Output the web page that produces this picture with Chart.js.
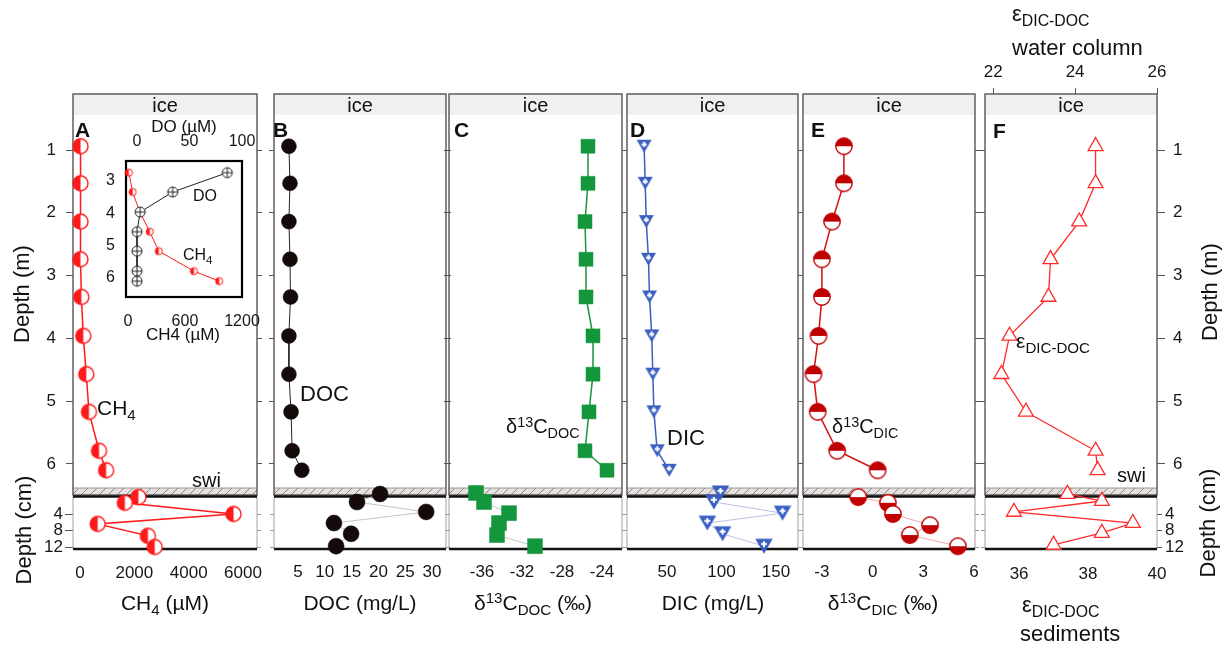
<!DOCTYPE html>
<html><head><meta charset="utf-8">
<script src="https://cdn.jsdelivr.net/npm/chart.js@4.4.1/dist/chart.umd.min.js"></script>
<style>
html,body{margin:0;padding:0;background:#fff;}
#stage{position:relative;width:1223px;height:649px;overflow:hidden;font-family:'Liberation Sans',Arial,Helvetica,sans-serif;color:#111;}
#stage canvas{position:absolute;left:0;top:0;}
.t{position:absolute;white-space:nowrap;line-height:1;}
.sb{font-size:72%;position:relative;top:0.32em;}
.sp{font-size:72%;position:relative;top:-0.45em;}
</style></head><body><div id="stage"></div>
<script>
// ---------------- data ----------------
const waterDepth = [0.94, 1.53, 2.14, 2.74, 3.34, 3.96, 4.57, 5.17, 5.79, 6.10];   // m
const ch4Water = [20, 20, 20, 15, 50, 120, 230, 330, 700, 960];                    // uM
const ch4SedDepth = [-0.1, 1.3, 4.0, 6.4, 9.3, 12.0];                                // cm
const ch4Sed = [2150, 1650, 5650, 650, 2500, 2750];
const insetDepth = [2.74, 3.34, 3.96, 4.57, 5.17, 5.79, 6.10];
const insetCH4 = [10, 50, 125, 230, 325, 695, 960];
const insetDO = [86, 34, 3, 0, 0, 0, 0];
const docWater = [3.3, 3.5, 3.3, 3.5, 3.6, 3.3, 3.3, 3.7, 3.9, 5.7];
const docSedDepth = [-0.85, 1.1, 3.5, 6.2, 8.8, 11.8];
const docSed = [20.3, 16.0, 28.9, 11.7, 14.9, 12.1];
const d13DocWater = [-25.4, -25.4, -25.7, -25.6, -25.6, -24.9, -24.9, -25.3, -25.7, -23.5];
const d13DocSedDepth = [-1.1, 1.1, 3.8, 6.2, 9.1, 11.8];
const d13DocSed = [-36.6, -35.8, -33.3, -34.3, -34.5, -30.7];
const dicWater = [29, 30, 31, 33, 34, 36, 37, 38, 41, 52];
const dicSedDepth = [-1.1, 1.1, 3.8, 6.2, 8.8, 11.8];
const dicSed = [99, 93, 156, 87, 101, 139];
const d13DicWater = [-1.7, -1.7, -2.4, -3.0, -3.0, -3.2, -3.5, -3.25, -2.1, 0.3];
const d13DicSedDepth = [-0.1, 1.3, 4.0, 6.7, 9.1, 11.8];
const d13DicSed = [-0.85, 0.9, 1.2, 3.4, 2.2, 5.05];
const epsWater = [24.5, 24.5, 24.1, 23.4, 23.35, 22.4, 22.2, 22.8, 24.5, 24.55];
const epsSedDepth = [-0.85, 0.85, 3.5, 6.2, 8.6, 11.5];
const epsSed = [37.4, 38.4, 35.85, 39.3, 38.4, 37.0];

// tick labels
const depthTicksM = [1, 2, 3, 4, 5, 6];
const depthTicksCm = [4, 8, 12];
const ch4Ticks = [0, 2000, 4000, 6000];
const docTicks = [5, 10, 15, 20, 25, 30];
const d13DocTicks = [-36, -32, -28, -24];
const dicTicks = [50, 100, 150];
const d13DicTicks = [-3, 0, 3, 6];
const epsWaterTicks = [22, 24, 26];
const epsSedTicks = [36, 38, 40];
const insetDepthTicks = [3, 4, 5, 6];
const insetCH4Ticks = [0, 600, 1200];
const insetDOTicks = [0, 50, 100];

// ---------------- layout / style ----------------
const W = 1223, H = 649;
const FONT = "'Liberation Sans', Arial, Helvetica, sans-serif";
const stage = document.getElementById('stage');
Chart.defaults.font.family = FONT;

const PANELS = {A:[73,257], B:[274,446], C:[449,622], D:[627,798], E:[803,975], F:[985,1157]};
const WT = 94, WB = 495, ST = 496.5, SBm = 549;
const WY = [0.108, 6.494], SY = [-0.24, 12.48];
const ICE_B = 0.44, SWI_T = 6.383;
const XR = {A:[-258,6515], B:[0.52,32.6], C:[-39.3,-22.0], D:[13.3,170.2], E:[-4.12,6.06], Fw:[21.8,26], Fs:[35.01,40]};
const TICK_FONT = 17;

function mkAxis(id, pos, o) {
  const horiz = pos === 'top' || pos === 'bottom';
  const tl = o.tl || 0;
  const cfg = {
    type: 'linear', axis: horiz ? 'x' : 'y', position: pos, min: o.min, max: o.max, reverse: !!o.reverse,
    display: (o.size || 0) > 0,
    afterBuildTicks: sc => { sc.ticks = (o.ticks || []).map(v => ({value: v})); },
    ticks: { display: !!o.show, padding: o.pad || 0, autoSkip: false, maxRotation: 0, minRotation: 0,
             font: {family: FONT, size: o.font || TICK_FONT}, color: '#161616', callback: v => String(v) },
    grid: { display: tl > 0, drawOnChartArea: false, drawTicks: tl > 0, tickLength: tl, color: o.tc || '#555', lineWidth: 1 },
    border: { display: false },
    title: { display: false }
  };
  if ((o.size || 0) > 0) cfg.afterFit = sc => { if (horiz) sc.height = o.size; else sc.width = o.size; };
  return {id, pos, size: o.size || 0, cfg};
}

function chartAt(frame, axes, datasets, plugins) {
  const side = {left:0, right:0, top:0, bottom:0};
  const scales = {};
  axes.forEach(a => { scales[a.id] = a.cfg; side[a.pos] += a.size; });
  const cv = document.createElement('canvas');
  cv.width = W; cv.height = H; cv.style.width = W + 'px'; cv.style.height = H + 'px';
  stage.appendChild(cv);
  return new Chart(cv, {
    type: 'scatter',
    data: {datasets},
    options: {
      responsive: false, animation: false, devicePixelRatio: 1, events: [],
      layout: {padding: {left: frame.l - side.left, right: W - frame.r - side.right,
                         top: frame.t - side.top, bottom: H - frame.b - side.bottom}},
      plugins: {legend: {display: false}, tooltip: {enabled: false}},
      scales
    },
    plugins
  });
}

function series(xs, ys, o) {
  return {
    data: xs.map((v, i) => ({x: v, y: ys[i]})), showLine: true,
    borderColor: o.line, borderWidth: o.lw || 1.5, pointStyle: o.ps, pointRadius: o.r,
    pointBackgroundColor: o.fill || '#fff', pointBorderColor: o.pb || o.line, pointBorderWidth: o.pbw || 1.4,
    xAxisID: o.xid || 'x', yAxisID: 'y', clip: false, tension: 0
  };
}

// ---- marker images ----
function halfCircle(r, col, half, lw) {
  const s = Math.ceil(2 * r + lw + 2); const c = document.createElement('canvas'); c.width = c.height = s;
  const g = c.getContext('2d'); const cx = s / 2, cy = s / 2;
  g.fillStyle = '#fff'; g.beginPath(); g.arc(cx, cy, r, 0, 2 * Math.PI); g.fill();
  const a0 = {left: Math.PI / 2, top: Math.PI, bottom: 0}[half];
  g.fillStyle = col; g.beginPath(); g.arc(cx, cy, r, a0, a0 + Math.PI); g.closePath(); g.fill();
  g.strokeStyle = col; g.lineWidth = lw; g.beginPath(); g.arc(cx, cy, r, 0, 2 * Math.PI); g.stroke();
  return c;
}
function triDown(w, col) {
  const h = w * 0.87; const s = Math.ceil(w + 4); const c = document.createElement('canvas'); c.width = c.height = s;
  const g = c.getContext('2d'); const cx = s / 2, cy = s / 2; const top = cy - h / 2;
  g.fillStyle = col; g.beginPath(); g.moveTo(cx - w / 2, top); g.lineTo(cx + w / 2, top); g.lineTo(cx, top + h); g.closePath(); g.fill();
  const py = top + h * 0.36, a = w * 0.17;
  g.strokeStyle = '#fff'; g.lineWidth = 2; g.beginPath();
  g.moveTo(cx - a, py); g.lineTo(cx + a, py); g.moveTo(cx, py - a); g.lineTo(cx, py + a); g.stroke();
  return c;
}
function circlePlus(r) {
  const s = Math.ceil(2 * r + 4); const c = document.createElement('canvas'); c.width = c.height = s;
  const g = c.getContext('2d'); const cx = s / 2, cy = s / 2;
  g.fillStyle = '#fff'; g.beginPath(); g.arc(cx, cy, r, 0, 2 * Math.PI); g.fill();
  g.strokeStyle = '#222'; g.lineWidth = 1; g.beginPath(); g.arc(cx, cy, r, 0, 2 * Math.PI);
  g.moveTo(cx - r, cy); g.lineTo(cx + r, cy); g.moveTo(cx, cy - r); g.lineTo(cx, cy + r); g.stroke();
  return c;
}

const RED = '#ff1a1a', DRED = '#c00000', BLUE = '#3a5fc0', GREEN = '#14963c', BLK = '#140a0a';
const mkA = halfCircle(7.5, RED, 'left', 1.4);
const mkInsetCH4 = halfCircle(3.6, RED, 'left', 1);
const mkDO = circlePlus(5);
const mkEw = halfCircle(8.2, DRED, 'top', 1.4);
const mkEs = halfCircle(8.2, DRED, 'bottom', 1.4);
const mkDw = triDown(15, BLUE);
const mkDs = triDown(17.5, BLUE);

// ---- decoration plugins ----
const waterDeco = {
  id: 'waterDeco',
  beforeDatasetsDraw(chart) {
    const {ctx, chartArea: a} = chart; const ys = chart.scales.y;
    const yIce = ys.getPixelForValue(ICE_B), ySwi = ys.getPixelForValue(SWI_T);
    const w = a.right - a.left;
    ctx.save();
    ctx.fillStyle = '#f0f0f0'; ctx.fillRect(a.left, a.top, w, yIce - a.top);
    ctx.fillStyle = '#e6e1e1'; ctx.fillRect(a.left, ySwi, w, a.bottom - ySwi);
    ctx.save(); ctx.beginPath(); ctx.rect(a.left, ySwi, w, a.bottom - ySwi); ctx.clip();
    ctx.beginPath(); ctx.strokeStyle = '#7a6e6e'; ctx.lineWidth = 0.8;
    for (let x = a.left - 10; x < a.right + 10; x += 9) { ctx.moveTo(x, a.bottom); ctx.lineTo(x + 7, ySwi); }
    ctx.stroke(); ctx.restore();
    ctx.strokeStyle = '#a09696'; ctx.lineWidth = 1;
    ctx.beginPath(); ctx.moveTo(a.left, ySwi); ctx.lineTo(a.right, ySwi); ctx.stroke();
    ctx.strokeStyle = '#5c5252'; ctx.lineWidth = 1.4;
    ctx.strokeRect(a.left, a.top, w, a.bottom - a.top);
    ctx.restore();
  }
};
const sedDeco = {
  id: 'sedDeco',
  beforeDatasetsDraw(chart) {
    const {ctx, chartArea: a} = chart;
    ctx.save();
    ctx.strokeStyle = '#a8a0a0'; ctx.lineWidth = 1; ctx.beginPath();
    ctx.moveTo(a.left, a.top); ctx.lineTo(a.left, a.bottom); ctx.moveTo(a.right, a.top); ctx.lineTo(a.right, a.bottom);
    ctx.stroke();
    ctx.strokeStyle = '#111'; ctx.lineWidth = 2.5; ctx.beginPath();
    ctx.moveTo(a.left, a.top); ctx.lineTo(a.right, a.top); ctx.moveTo(a.left, a.bottom); ctx.lineTo(a.right, a.bottom);
    ctx.stroke();
    ctx.restore();
  }
};
const insetDeco = {
  id: 'insetDeco',
  beforeDatasetsDraw(chart) {
    const {ctx, chartArea: a} = chart;
    ctx.save(); ctx.fillStyle = '#fff'; ctx.fillRect(a.left, a.top, a.right - a.left, a.bottom - a.top);
    ctx.strokeStyle = '#000'; ctx.lineWidth = 2.2; ctx.strokeRect(a.left, a.top, a.right - a.left, a.bottom - a.top);
    ctx.restore();
  }
};

// ---- panel builders ----
function waterAxes(xr, opt) {
  const o = opt || {};
  const axes = [];
  if (o.topTicks) axes.push(mkAxis('x', 'top', {min: xr[0], max: xr[1], ticks: o.topTicks, show: true, tl: 6, pad: 5, size: 40}));
  else axes.push(mkAxis('x', 'bottom', {min: xr[0], max: xr[1]}));
  axes.push(o.leftLabels
    ? mkAxis('y', 'left', {min: WY[0], max: WY[1], reverse: true, ticks: depthTicksM, show: true, tl: 7, pad: 10, size: 40})
    : mkAxis('y', 'left', {min: WY[0], max: WY[1], reverse: true, ticks: depthTicksM, tl: 5, size: 5}));
  axes.push(o.rightLabels
    ? mkAxis('yr', 'right', {min: WY[0], max: WY[1], reverse: true, ticks: depthTicksM, show: true, tl: 8, pad: 8, size: 40})
    : mkAxis('yr', 'right', {min: WY[0], max: WY[1], reverse: true, ticks: depthTicksM, tl: 5, size: 5}));
  return axes;
}
function sedAxes(xr, xticks, pad, opt) {
  const o = opt || {};
  return [
    mkAxis('x', 'bottom', {min: xr[0], max: xr[1], ticks: xticks, show: true, pad: pad, size: 45}),
    o.leftLabels
      ? mkAxis('y', 'left', {min: SY[0], max: SY[1], reverse: true, ticks: depthTicksCm, show: true, tl: 8, pad: 2, size: 40})
      : mkAxis('y', 'left', {min: SY[0], max: SY[1], reverse: true, ticks: depthTicksCm, tl: 4, size: 4, tc: '#999'}),
    o.rightLabels
      ? mkAxis('yr', 'right', {min: SY[0], max: SY[1], reverse: true, ticks: depthTicksCm, show: true, tl: 5, pad: 3, size: 40})
      : mkAxis('yr', 'right', {min: SY[0], max: SY[1], reverse: true, ticks: depthTicksCm, tl: 4, size: 4, tc: '#999'})
  ];
}
const wf = k => ({l: PANELS[k][0], r: PANELS[k][1], t: WT, b: WB});
const sf = k => ({l: PANELS[k][0], r: PANELS[k][1], t: ST, b: SBm});

// Panel A
chartAt(wf('A'), waterAxes(XR.A, {leftLabels: true}),
  [series(ch4Water, waterDepth, {line: RED, lw: 1.5, ps: mkA, r: 8})], [waterDeco]);
// Inset
chartAt({l: 126, r: 242, t: 161, b: 297}, [
    mkAxis('x', 'bottom', {min: -20, max: 1200, ticks: insetCH4Ticks, show: true, pad: 15, size: 40, font: 16}),
    mkAxis('x2', 'top', {min: -10.5, max: 100, ticks: insetDOTicks, show: true, pad: 10, size: 30, font: 16}),
    mkAxis('y', 'left', {min: 2.38, max: 6.59, reverse: true, ticks: insetDepthTicks, show: true, pad: 11, size: 30, font: 16})
  ], [
    series(insetDO, insetDepth, {line: '#222', lw: 1, ps: mkDO, r: 6, xid: 'x2'}),
    series(insetCH4, insetDepth, {line: RED, lw: 1, ps: mkInsetCH4, r: 4})
  ], [insetDeco]);
chartAt(sf('A'), sedAxes(XR.A, ch4Ticks, 14, {leftLabels: true}),
  [series(ch4Sed, ch4SedDepth, {line: RED, lw: 1.5, ps: mkA, r: 8})], [sedDeco]);

// Panel B
chartAt(wf('B'), waterAxes(XR.B),
  [series(docWater, waterDepth, {line: '#2a2222', lw: 1, ps: 'circle', r: 7.5, fill: BLK, pb: BLK, pbw: 0.5})], [waterDeco]);
chartAt(sf('B'), sedAxes(XR.B, docTicks, 13),
  [series(docSed, docSedDepth, {line: '#c4c4c4', lw: 1, ps: 'circle', r: 8, fill: BLK, pb: BLK, pbw: 0.5})], [sedDeco]);

// Panel C
chartAt(wf('C'), waterAxes(XR.C),
  [series(d13DocWater, waterDepth, {line: GREEN, lw: 1.5, ps: 'rect', r: 9.9, fill: GREEN, pb: GREEN, pbw: 0.5})], [waterDeco]);
chartAt(sf('C'), sedAxes(XR.C, d13DocTicks, 13),
  [series(d13DocSed, d13DocSedDepth, {line: '#bfc8c2', lw: 1, ps: 'rect', r: 10.6, fill: GREEN, pb: GREEN, pbw: 0.5})], [sedDeco]);

// Panel D
chartAt(wf('D'), waterAxes(XR.D),
  [series(dicWater, waterDepth, {line: BLUE, lw: 1.5, ps: mkDw, r: 8})], [waterDeco]);
chartAt(sf('D'), sedAxes(XR.D, dicTicks, 13),
  [series(dicSed, dicSedDepth, {line: '#bcc0e6', lw: 1, ps: mkDs, r: 9})], [sedDeco]);

// Panel E
chartAt(wf('E'), waterAxes(XR.E),
  [series(d13DicWater, waterDepth, {line: '#d01010', lw: 1.5, ps: mkEw, r: 9})], [waterDeco]);
chartAt(sf('E'), sedAxes(XR.E, d13DicTicks, 13),
  [series(d13DicSed, d13DicSedDepth, {line: '#f2a8a8', lw: 1, ps: mkEs, r: 9})], [sedDeco]);

// Panel F
chartAt(wf('F'), waterAxes(XR.Fw, {rightLabels: true, topTicks: epsWaterTicks}),
  [series(epsWater, waterDepth, {line: '#ff2a2a', lw: 1.3, ps: 'triangle', r: 8.6, fill: '#fff', pb: '#ff2a2a', pbw: 1.3})], [waterDeco]);
chartAt(sf('F'), sedAxes(XR.Fs, epsSedTicks, 15, {rightLabels: true}),
  [series(epsSed, epsSedDepth, {line: '#ff2a2a', lw: 1.3, ps: 'triangle', r: 8.6, fill: '#fff', pb: '#ff2a2a', pbw: 1.3})], [sedDeco]);

// ---------------- text ----------------
function label(html, x, y, size, o) {
  o = o || {};
  const d = document.createElement('div'); d.className = 't'; d.innerHTML = html;
  d.style.left = x + 'px'; d.style.top = y + 'px'; d.style.fontSize = size + 'px';
  if (o.bold) d.style.fontWeight = 'bold';
  let tf = '';
  if (o.center) tf = 'translate(-50%,-50%) ';
  else if (o.cx) tf = 'translateX(-50%) ';
  if (o.rot) tf += 'rotate(' + o.rot + 'deg)';
  if (tf) d.style.transform = tf;
  stage.appendChild(d);
}
const sb = t => '<span class="sb">' + t + '</span>';
const sp = t => '<span class="sp">' + t + '</span>';

Object.keys(PANELS).forEach(k => {
  const p = PANELS[k];
  label('ice', (p[0] + p[1]) / 2, 95, 20, {cx: true});
});
label('A', 75, 119, 21, {bold: true});
label('B', 273, 119, 21, {bold: true});
label('C', 454, 119, 21, {bold: true});
label('D', 630, 119, 21, {bold: true});
label('E', 811, 119, 21, {bold: true});
label('F', 993, 120, 21, {bold: true});

label('CH' + sb('4'), 97, 397, 21);
label('swi', 192, 470, 20);
label('DOC', 300, 383, 22);
label('δ' + sp('13') + 'C' + sb('DOC'), 506, 416, 20);
label('DIC', 667, 427, 22);
label('δ' + sp('13') + 'C' + sb('DIC'), 832, 416, 20);
label('ε' + sb('DIC-DOC'), 1016, 330, 21);
label('swi', 1117, 465, 20);

label('DO', 193, 188, 16);
label('CH' + sb('4'), 183, 247, 16);
label('DO (µM)', 184, 118, 17, {cx: true});
label('CH4 (µM)', 183, 326, 17, {cx: true});

label('CH' + sb('4') + ' (µM)', 165, 592, 21, {cx: true});
label('DOC (mg/L)', 360, 592, 21, {cx: true});
label('δ' + sp('13') + 'C' + sb('DOC') + ' (‰)', 533, 592, 21, {cx: true});
label('DIC (mg/L)', 713, 592, 21, {cx: true});
label('δ' + sp('13') + 'C' + sb('DIC') + ' (‰)', 883, 592, 21, {cx: true});

label('Depth (m)', 22, 294, 22, {center: true, rot: -90});
label('Depth (cm)', 24, 530, 22, {center: true, rot: -90});
label('Depth (m)', 1210, 292, 22, {center: true, rot: -90});
label('Depth (cm)', 1208, 523, 22, {center: true, rot: -90});

label('ε' + sb('DIC-DOC'), 1012, 3, 22);
label('water column', 1012, 37, 22);
label('ε' + sb('DIC-DOC'), 1022, 594, 22);
label('sediments', 1020, 623, 22);
</script></body></html>
